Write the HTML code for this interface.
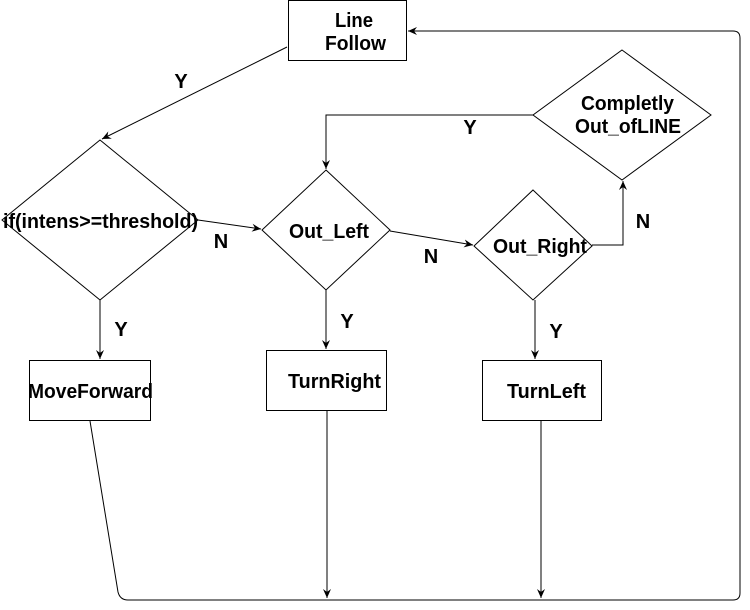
<!DOCTYPE html>
<html><head><style>body{margin:0;background:#fff}svg{display:block}text{font-family:"Liberation Sans",sans-serif;font-weight:bold;font-size:20px;fill:#000}</style></head>
<body>
<svg width="750" height="610" viewBox="0 0 750 610" xmlns="http://www.w3.org/2000/svg">
<defs><marker id="a" markerWidth="10" markerHeight="10" refX="9" refY="5" orient="auto" markerUnits="userSpaceOnUse"><path d="M0,1 L9,5 L0,9 L3,5 Z" fill="#000"/></marker></defs>
<g fill="none" stroke="#000" stroke-width="1">
<rect x="288.5" y="0.5" width="118" height="60"/>
<path d="M100,140 L198,220 L100,300 L2,220 Z"/>
<path d="M326,170 L390,230 L326,290 L262,230 Z"/>
<path d="M533,190 L592,246 L533,300 L474,246 Z"/>
<path d="M622,50 L711,115 L622,180 L533,115 Z"/>
<rect x="29.5" y="360.5" width="121" height="60"/>
<rect x="266.5" y="350.5" width="120" height="60"/>
<rect x="482.5" y="360.5" width="119" height="60"/>
<path d="M287,47 L102,139" marker-end="url(#a)"/>
<path d="M198,220 L261,229" marker-end="url(#a)"/>
<path d="M390,231 L473,245" marker-end="url(#a)"/>
<path d="M592,245 L623,245 L623,181" marker-end="url(#a)"/>
<path d="M533,115 L326,115 L326,169" marker-end="url(#a)"/>
<path d="M100,300 L100,359" marker-end="url(#a)"/>
<path d="M326,290 L326,349" marker-end="url(#a)"/>
<path d="M535,300 L535,359" marker-end="url(#a)"/>
<path d="M327,410 L327,598" marker-end="url(#a)"/>
<path d="M541,420 L541,598" marker-end="url(#a)"/>
<path d="M90,421 L118,592 Q120,600 128,600 L733,600 Q740,600 740,593 L740,38 Q740,31 733,31 L408,31" marker-end="url(#a)"/>
</g>
<g lengthAdjust="spacingAndGlyphs">
<text x="335" y="27" textLength="38" lengthAdjust="spacingAndGlyphs">Line</text>
<text x="325" y="50" textLength="61" lengthAdjust="spacingAndGlyphs">Follow</text>
<text x="3" y="228" textLength="195" lengthAdjust="spacingAndGlyphs">if(intens&gt;=threshold)</text>
<text x="289" y="238" textLength="80" lengthAdjust="spacingAndGlyphs">Out_Left</text>
<text x="493" y="253" textLength="94" lengthAdjust="spacingAndGlyphs">Out_Right</text>
<text x="581" y="110" textLength="93" lengthAdjust="spacingAndGlyphs">Completly</text>
<text x="575" y="133" textLength="106" lengthAdjust="spacingAndGlyphs">Out_ofLINE</text>
<text x="28" y="398" textLength="125" lengthAdjust="spacingAndGlyphs">MoveForward</text>
<text x="288" y="388" textLength="93" lengthAdjust="spacingAndGlyphs">TurnRight</text>
<text x="507" y="398" textLength="79" lengthAdjust="spacingAndGlyphs">TurnLeft</text>
</g>
<g text-anchor="middle" style="font-size:19px">
<text x="181" y="88">Y</text>
<text x="470" y="134">Y</text>
<text x="121" y="336">Y</text>
<text x="347" y="328">Y</text>
<text x="556" y="338">Y</text>
<text x="221" y="248">N</text>
<text x="431" y="263">N</text>
<text x="643" y="228">N</text>
</g>
</svg>
</body></html>
